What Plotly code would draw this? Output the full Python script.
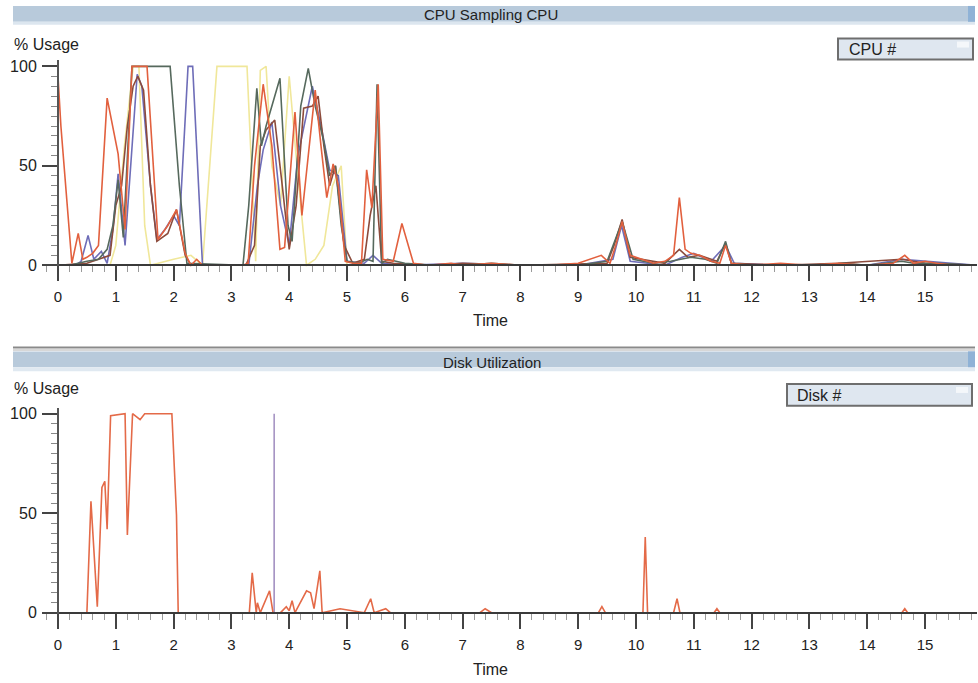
import plotly.graph_objects as go

# ---------------- data ----------------
cpu0_t = [0, 0.05, 0.24, 0.35, 0.43, 0.5, 0.6, 0.7, 0.85, 1.04, 1.16, 1.28, 1.54, 1.73, 1.9, 2.05, 2.2, 2.3, 2.4, 2.5,
          3.2, 3.29, 3.4, 3.55, 3.7, 3.84, 3.92, 4.1, 4.22, 4.45, 4.55, 4.65, 4.76, 4.85, 4.97, 5.1, 5.25, 5.34, 5.43,
          5.54, 5.62, 5.8, 5.95, 6.15, 6.4, 6.8, 7.0, 7.5, 8.0, 8.5, 9.0, 9.4, 9.55, 9.65, 9.76, 9.9, 10.1, 10.3, 10.5,
          10.65, 10.75, 10.85, 10.95, 11.1, 11.3, 11.45, 11.55, 11.65, 12.0, 12.5, 13.0, 13.5, 14.0, 14.45, 14.65, 14.8,
          15.0, 15.2, 15.5, 15.9]
cpu0_v = [95, 70, 1, 16, 3, 4, 6, 10, 84, 56, 18, 100, 100, 13, 20, 28, 6, 0, 3, 0,
          0, 1, 50, 91, 60, 8, 9, 77, 25, 88, 60, 34, 51, 40, 2, 1, 1, 48, 29,
          91, 3, 2, 21, 1, 0, 1, 0, 1, 0, 0, 1, 5, 1, 10, 22, 5, 3, 1, 2,
          5, 34, 8, 6, 5, 2, 1, 10, 1, 0, 1, 0, 1, 0, 1, 5, 1,
          2, 1, 0, 0]

cpu1_t = [0, 0.2, 0.5, 0.7, 0.85, 0.95, 1.04, 1.13, 1.28, 1.94, 2.1, 2.23, 3.2, 3.3, 3.44, 3.52, 3.6, 3.84, 3.98,
          4.05, 4.2, 4.33, 4.45, 4.6, 4.7, 4.8, 4.9, 5.0, 5.2, 5.35, 5.45, 5.52, 5.6, 5.7, 6.0, 6.5, 7.0, 7.5, 8.0,
          9.0, 9.5, 9.76, 9.95, 10.3, 10.6, 10.8, 10.95, 11.2, 11.4, 11.55, 11.65, 12.0, 13.0, 13.6, 14.0, 14.6, 14.8,
          15.2, 15.9]
cpu1_v = [0, 0, 2, 3, 8, 20, 43, 14, 100, 100, 40, 1, 0, 30, 89, 60, 70, 94, 20,
          12, 80, 99, 80, 62, 45, 50, 20, 2, 1, 3, 2, 91, 1, 3, 1, 0, 0, 1, 0,
          0, 2, 22, 3, 1, 2, 3, 4, 3, 1, 12, 1, 0, 0, 1, 0, 2, 1,
          1, 0]

cpu2_t = [0, 0.3, 0.4, 0.52, 0.62, 0.75, 0.85, 0.95, 1.04, 1.16, 1.37, 1.45, 1.6, 1.71, 1.85, 2.0, 2.1, 2.25, 2.33,
          2.5, 3.3, 3.45, 3.55, 3.7, 3.85, 4.0, 4.15, 4.3, 4.4, 4.55, 4.7, 4.85, 5.0, 5.3, 5.45, 5.6, 6.0, 7.0, 8.0,
          9.0, 9.6, 9.75, 9.9, 10.5, 10.8, 11.0, 11.3, 11.55, 11.7, 12.5, 14.0, 14.6, 15.9]
cpu2_v = [0, 0, 2, 15, 3, 7, 1, 18, 46, 10, 96, 90, 40, 13, 18, 25, 20, 100, 100,
          0, 0, 40, 58, 72, 30, 10, 55, 75, 90, 70, 48, 45, 2, 1, 5, 1, 0, 1, 0,
          0, 3, 20, 2, 0, 4, 6, 2, 10, 1, 0, 0, 3, 0]

cpu3_t = [0, 0.9, 1.0, 1.15, 1.3, 1.4, 1.5, 1.6, 2.0, 2.3, 2.5, 2.75, 3.27, 3.42, 3.5, 3.6, 3.7, 3.85, 4.0, 4.15,
          4.3, 4.45, 4.6, 4.75, 4.9, 5.0, 5.3, 15.9]
cpu3_v = [0, 0, 10, 60, 100, 100, 20, 0, 3, 5, 0, 100, 100, 2, 98, 100, 50, 30, 95, 45,
          0, 3, 10, 40, 50, 0, 0, 0]

cpu4_t = [0, 0.5, 0.9, 1.0, 1.1, 1.2, 1.3, 1.38, 1.48, 1.6, 1.71, 1.9, 2.05, 2.2, 2.3, 3.25, 3.4, 3.5, 3.6, 3.75,
          3.88, 4.0, 4.12, 4.25, 4.4, 4.5, 4.6, 4.7, 4.8, 4.95, 5.1, 5.3, 5.4, 5.5, 5.6, 5.8, 6.5, 7.0, 8.0, 9.5,
          9.62, 9.76, 9.9, 10.5, 10.75, 10.9, 11.1, 11.4, 11.55, 11.65, 12.5, 13.5, 14.6, 15.0, 15.9]
cpu4_v = [0, 1, 5, 30, 40, 70, 90, 95, 88, 40, 12, 16, 28, 5, 0, 0, 10, 60, 68, 73,
          40, 8, 30, 79, 80, 85, 60, 40, 50, 10, 1, 3, 25, 40, 2, 1, 0, 1, 0, 1,
          10, 23, 4, 1, 8, 4, 5, 2, 11, 1, 0, 1, 3, 1, 0]

disk0_t = [0, 0.5, 0.57, 0.68, 0.76, 0.81, 0.85, 0.91, 1.16, 1.2, 1.29, 1.42, 1.5, 1.97, 2.05, 2.08, 3.31, 3.36,
           3.43, 3.45, 3.5, 3.66, 3.72, 3.85, 3.95, 4.0, 4.05, 4.1, 4.3, 4.37, 4.43, 4.53, 4.57, 4.88, 5.3, 5.41,
           5.47, 5.67, 5.75, 7.3, 7.39, 7.5, 9.35, 9.41, 9.47, 10.12, 10.16, 10.2, 10.65, 10.71, 10.76, 11.35, 11.4,
           11.45, 14.6, 14.65, 14.7, 15.9]
disk0_v = [0, 0, 56, 3, 63, 66, 42, 99, 100, 39, 100, 97, 100, 100, 49, 0, 0, 20,
           0, 5, 0, 11, 0, 0, 3, 1, 6, 0, 11, 10, 2, 21, 0, 2, 0, 7,
           0, 2, 0, 0, 2, 0, 0, 3, 0, 0, 38, 0, 0, 7, 0, 0, 2,
           0, 0, 2, 0, 0]

disk1_t = [3.739, 3.74, 3.741]
disk1_v = [0, 100, 0]

x_ticks = list(range(0, 16))
y_ticks = [0, 50, 100]

# ---------------- figure ----------------
W, H = 978, 683
FONT = "Liberation Sans, Arial, Helvetica, sans-serif"


def px_x(p):
    return p / W


def px_y(p):
    return 1 - p / H


fig = go.Figure()

cpu_series = [
    (cpu3_t, cpu3_v, "#f0e79a", "CPU 3"),
    (cpu2_t, cpu2_v, "#6e6db8", "CPU 2"),
    (cpu4_t, cpu4_v, "#8c4b3c", "CPU 4"),
    (cpu1_t, cpu1_v, "#56695d", "CPU 1"),
    (cpu0_t, cpu0_v, "#e2603e", "CPU 0"),
]
for t, v, c, n in cpu_series:
    fig.add_trace(go.Scatter(x=t, y=v, mode="lines", name=n,
                             line=dict(color=c, width=1.6), xaxis="x", yaxis="y"))

fig.add_trace(go.Scatter(x=disk1_t, y=disk1_v, mode="lines", name="Disk 1",
                         line=dict(color="#a795c4", width=1.6), xaxis="x2", yaxis="y2"))
fig.add_trace(go.Scatter(x=disk0_t, y=disk0_v, mode="lines", name="Disk 0",
                         line=dict(color="#e46a48", width=1.6), xaxis="x2", yaxis="y2"))

# geometry (pixels)
x0_px, x_unit = 58, 57.8
x_left_px, x_right_px = 43, 977
x_min = (x_left_px - x0_px) / x_unit
x_max = (x_right_px - x0_px) / x_unit
y_unit = 2.01
y_lo, y_hi = -2, 103


def ydomain(zero_px):
    bottom = zero_px - y_lo * y_unit
    top = zero_px - y_hi * y_unit
    return [px_y(bottom), px_y(top)]


top_zero, bot_zero = 266, 617

xcommon = dict(range=[x_min, x_max], tickvals=x_ticks, showgrid=False, zeroline=False,
               showline=True, linecolor="#3a3a3a", linewidth=2,
               ticks="outside", ticklen=15, tickwidth=2, tickcolor="#444",
               tickfont=dict(family=FONT, size=15, color="#222"), ticklabelstandoff=3,
               minor=dict(dtick=0.2, ticks="outside", ticklen=6, tickwidth=1, tickcolor="#9a9a9a"),
               domain=[px_x(x_left_px), px_x(x_right_px)], anchor="free", fixedrange=True)
ycommon = dict(range=[y_lo, y_hi], tickvals=y_ticks, showgrid=False, zeroline=False,
               showline=True, linecolor="#555", linewidth=2,
               ticks="outside", ticklen=15, tickwidth=2, tickcolor="#444",
               tickfont=dict(family=FONT, size=16, color="#222"), ticklabelstandoff=2,
               minor=dict(dtick=5, ticks="outside", ticklen=6, tickwidth=1, tickcolor="#888"),
               anchor="free", position=px_x(x0_px), fixedrange=True)

fig.update_layout(
    width=W, height=H, autosize=False,
    margin=dict(l=0, r=0, t=0, b=0),
    paper_bgcolor="white", plot_bgcolor="rgba(0,0,0,0)",
    showlegend=False,
    xaxis=dict(**xcommon, position=px_y(top_zero)),
    yaxis=dict(**ycommon, domain=ydomain(top_zero)),
    xaxis2=dict(**xcommon, position=px_y(bot_zero)),
    yaxis2=dict(**ycommon, domain=ydomain(bot_zero)),
)

shapes = []
annotations = []


def rect(x0, y0, x1, y1, fill, line_color=None, line_width=0):
    return dict(type="rect", xref="paper", yref="paper",
                x0=px_x(x0), x1=px_x(x1), y0=px_y(y1), y1=px_y(y0),
                fillcolor=fill, line=dict(color=line_color or fill, width=line_width), layer="below")


def text(x, y, s, xanchor="left", size=16):
    return dict(xref="paper", yref="paper", x=px_x(x), y=px_y(y), text=s, showarrow=False,
                xanchor=xanchor, yanchor="middle", font=dict(family=FONT, size=size, color="#222"))


# title bars
shapes.append(rect(13, 4, 975, 20, "#b8cadb"))
shapes.append(rect(13, 20, 975, 23, "#dce6ef"))
shapes.append(rect(968, 4, 975, 20, "#8fb2d6"))
annotations.append(text(491, 13, "CPU Sampling CPU", "center", 15))

shapes.append(rect(13, 348, 975, 350, "#8a8a8a"))
shapes.append(rect(13, 351, 975, 352, "#b0b0b0"))
shapes.append(rect(13, 353, 975, 369, "#b8cadb"))
shapes.append(rect(13, 369, 975, 373, "#e0e9f1"))
shapes.append(rect(968, 353, 975, 369, "#8fb2d6"))
annotations.append(text(492, 364, "Disk Utilization", "center", 15))

# selector boxes
shapes.append(rect(838, 37, 973, 58, "#dfe7f0", "#6e6e6e", 2))
shapes.append(rect(957, 40, 969, 46, "#f4f7fa"))
annotations.append(text(847, 48, "CPU #", "left", 16))
shapes.append(rect(787, 386, 972, 408, "#dfe7f0", "#6e6e6e", 2))
shapes.append(rect(956, 389, 968, 395, "#f4f7fa"))
annotations.append(text(795, 398, "Disk #", "left", 16))

# axis captions
annotations.append(text(12, 43, "% Usage", "left", 16))
annotations.append(text(12, 391, "% Usage", "left", 16))
annotations.append(text(491, 322, "Time", "center", 16))
annotations.append(text(491, 674, "Time", "center", 16))

fig.update_layout(shapes=shapes, annotations=annotations)

post = ("document.body.style.margin='0';document.body.style.padding='0';"
        "document.body.style.overflow='hidden';")

fig.write_html("out.html", config={"displayModeBar": False, "staticPlot": True}, post_script=post)
